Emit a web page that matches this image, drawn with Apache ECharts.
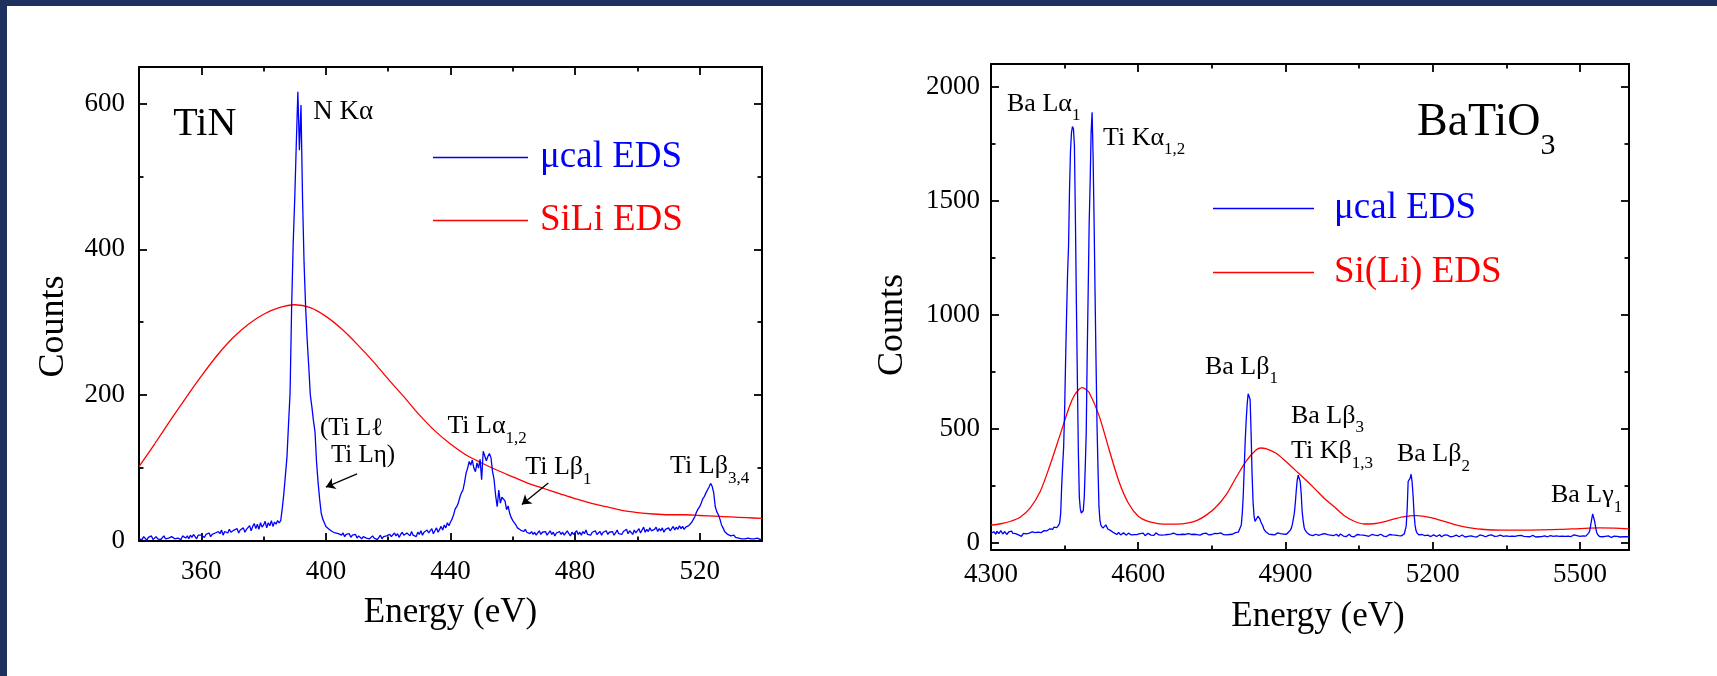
<!DOCTYPE html>
<html><head><meta charset="utf-8">
<script src="https://cdn.jsdelivr.net/npm/echarts@6.0.0/dist/echarts.min.js"></script>
<style>html,body{margin:0;padding:0;background:#fff;}#c{width:1717px;height:676px;}</style>
</head><body><div id="c"></div>
<script>
// ---------------- DATA ----------------
// TiN, microcalorimeter EDS: counts every 0.5 eV from 340 eV; each row = 5 eV (10 samples)
const tinStart = 340, tinStep = 0.5;
const tinMicrocalRows = [
  [3,5,2,6,4,1,5,3,7,2],            // 340
  [4,6,3,5,2,4,7,3,5,4],            // 345
  [2,6,8,3,5,4,6,2,7,5],            // 350
  [4,7,3,8,5,9,6,3,8,6],            // 355
  [8,10,5,9,7,11,6,9,8,11],         // 360
  [9,13,10,15,8,13,14,11,16,12],    // 365
  [10,15,13,17,11,15,13,18,12,16],  // 370
  [17,21,14,20,24,17,23,16,25,19],  // 375
  [22,27,18,25,21,28,20,26,23,28],  // 380
  [25,28,45,65,90,115,160,203,321,408], // 385
  [470,545,616,536,598,470,380,320,275,239], // 390
  [200,184,165,150,108,80,57,38,30,25], // 395
  [20,22,16,18,13,15,11,13,10,12],  // 400
  [8,11,6,9,7,10,5,8,6,9],          // 405
  [4,7,5,3,6,8,4,6,3,5],            // 410
  [7,4,6,2,5,8,3,6,4,7],            // 415
  [5,9,6,8,11,7,10,5,9,12],         // 420
  [8,6,11,9,7,13,8,10,6,12],        // 425
  [9,14,8,12,10,15,11,13,17,10],    // 430
  [14,18,12,16,20,15,22,18,25,21],  // 435
  [26,30,36,44,47,52,60,66,70,80],  // 440
  [93,100,109,104,111,100,95,107,100,112], // 445
  [84,123,125,110,116,120,114,95,84,62],   // 450
  [47,70,52,60,59,55,43,48,38,32],  // 455
  [28,25,22,18,20,15,17,13,16,12],  // 460
  [14,10,13,9,12,8,11,14,9,12],     // 465
  [10,13,8,11,14,9,12,7,11,10],     // 470
  [13,9,12,8,11,14,10,7,12,9],      // 475
  [11,14,9,12,8,13,10,15,9,11],     // 480
  [8,12,10,14,9,11,13,8,12,10],     // 485
  [14,9,12,10,13,8,11,15,10,12],    // 490
  [9,13,11,16,10,14,12,9,15,11],    // 495
  [13,17,11,15,19,12,16,13,18,14],  // 500
  [12,16,19,13,17,14,18,12,16,15],  // 505
  [18,14,17,20,15,19,16,21,17,20],  // 510
  [16,19,17,21,20,26,30,34,40,44],  // 515
  [47,52,58,61,66,70,74,79,75,66],  // 520
  [47,40,36,30,22,18,13,11,9,8],    // 525
  [7,6,8,5,6,4,5,3,4,3],            // 530
  [2,4,2,3,1,3,2,4,3,2],            // 535
  [3]                               // 540
];
// TiN, SiLi EDS (smooth curve)
const tinSiliEnergy = [340,345,350,355,360,365,370,375,380,385,390,395,400,405,410,415,420,425,430,435,440,445,450,455,460,465,470,475,480,485,490,495,500,505,510,515,520,525,530,535,540];
const tinSiliCounts = [102,133,165,196,226,254,278,297,311,320,324,320,308,291,270,247,222,198,173,151,133,118,107,97,88,79,72,65,58,52,47,42,39,37,36,36,35,34,33,32,31];

// BaTiO3, microcalorimeter EDS: counts every 2 eV from 4300 eV; each row = 50 eV (25 samples)
const batStart = 4300, batStep = 2;
const batMicrocalRows = [
  [44,48,41,50,46,39,52,45,42,49,55,47,40,46,51,43,38,45,49,42,47,53,44,40,46], // 4300
  [42,38,45,36,41,34,30,37,43,39,35,41,47,40,44,38,42,49,45,41,46,52,44,48,43], // 4350
  [50,46,53,48,55,51,58,54,60,56,63,58,66,61,70,65,72,68,76,79,90,130,250,340,420], // 4400
  [580,800,1000,1180,1300,1550,1720,1800,1826,1815,1740,1420,1050,720,400,200,150,132,128,142,200,330,480,820,1100], // 4450
  [1400,1580,1800,1888,1700,1420,1100,800,520,330,160,100,78,70,66,72,68,80,76,62,58,64,55,57,50], // 4500
  [46,41,44,38,43,47,40,36,42,39,45,37,41,35,40,44,38,42,36,39,43,37,41,34,38], // 4550
  [40,36,42,35,39,44,37,33,40,38,43,36,41,35,38,42,34,39,45,37,40,36,42,38,35], // 4600
  [39,43,36,41,34,38,42,37,40,35,39,44,36,41,38,34,40,37,43,36,39,42,35,38,41], // 4650
  [37,42,35,40,38,44,36,39,34,41,37,43,38,35,40,36,42,39,37,44,38,41,36,40,43], // 4700
  [38,41,36,43,39,35,42,37,40,45,38,41,37,43,39,36,42,40,38,44,41,39,43,40,46], // 4750
  [45,42,48,50,55,80,130,210,330,450,540,610,655,660,630,480,300,180,120,95,92,100,118,123,105], // 4800
  [93,86,75,62,57,50,48,44,40,46,42,38,44,40,36,43,39,45,41,37,42,38,44,40,36], // 4850
  [42,39,45,48,52,57,66,82,105,130,174,230,276,298,302,270,220,140,100,70,57,50,46,42,40], // 4900
  [36,42,38,33,40,35,39,44,37,34,41,36,39,33,38,42,35,40,37,32,39,35,41,36,33], // 4950
  [37,32,39,35,30,36,40,33,37,31,38,34,29,36,32,39,34,30,37,33,28,35,31,38,33], // 5000
  [30,36,32,28,35,31,37,33,29,34,30,36,32,38,34,31,35,30,37,33,36,32,39,35,34], // 5050
  [31,36,33,29,35,32,38,34,30,36,33,29,35,31,37,33,30,36,32,38,36,40,48,75,150], // 5100
  [270,262,285,302,270,210,130,80,55,45,40,36,42,34,38,31,36,33,39,30,35,32,37,29,34], // 5150
  [32,36,30,34,29,35,31,37,33,28,34,30,36,32,29,35,31,34,28,33,36,30,34,31,35], // 5200
  [30,34,28,33,31,36,29,33,27,32,35,30,34,28,32,30,35,29,33,31,27,34,30,36,31], // 5250
  [29,33,30,35,28,32,30,34,27,31,36,29,33,30,28,34,31,27,32,35,29,33,30,34,28], // 5300
  [32,29,34,30,27,33,31,28,35,30,32,27,33,29,31,34,28,32,30,26,33,29,35,31,28], // 5350
  [31,28,34,29,32,27,33,30,28,35,31,29,33,27,32,30,34,28,31,29,33,27,32,30,35], // 5400
  [29,32,27,33,30,35,28,31,29,34,30,27,33,31,28,32,29,34,30,36,31,28,33,29,32], // 5450
  [30,33,28,32,29,34,31,27,33,45,55,80,105,128,125,95,70,48,38,32,29,27,30,28,31], // 5500
  [27,30,26,29,32,27,30,25,29,27,31,26,28,30,25,29,27,31,26,28,30,27,29,26,28], // 5550
  [27]  // 5600
];
// BaTiO3, Si(Li) EDS (smooth curve)
const batSiliEnergy = [4300,4320,4340,4360,4380,4400,4420,4440,4460,4470,4480,4486,4492,4500,4520,4540,4560,4580,4600,4620,4640,4660,4680,4700,4720,4740,4760,4780,4800,4820,4840,4850,4860,4880,4900,4920,4940,4960,4980,5000,5020,5040,5060,5080,5100,5120,5140,5160,5170,5180,5200,5220,5240,5260,5280,5300,5340,5380,5420,5460,5500,5540,5570,5600];
const batSiliCounts = [79,85,96,115,155,225,340,470,600,648,676,682,676,660,560,415,275,175,118,95,86,83,83,88,100,125,162,215,290,360,408,417,414,395,360,320,280,238,195,158,120,96,84,85,93,105,115,121,121,118,110,98,85,74,66,61,57,57,58,60,64,67,66,63];

// tick values
const tinXMajor = [360,400,440,480,520], tinXMinor = [380,420,460,500];
const tinYMajor = [0,200,400,600], tinYMinor = [100,300,500];
const batXMajor = [4300,4600,4900,5200,5500], batXMinor = [4450,4750,5050,5350];
const batYMajor = [0,500,1000,1500,2000], batYMinor = [250,750,1250,1750];

// peak labels (main text, subscript)
const tinLabels = [['TiN',''],['N Kα',''],['(Ti Lℓ',''],['Ti Lη)',''],['Ti Lα','1,2'],['Ti Lβ','1'],['Ti Lβ','3,4']];
const batLabels = [['Ba Lα','1'],['Ti Kα','1,2'],['BaTiO','3'],['Ba Lβ','1'],['Ba Lβ','3'],['Ti Kβ','1,3'],['Ba Lβ','2'],['Ba Lγ','1']];

// ---------------- BUILD ----------------
const FONT = '"Liberation Serif","Times New Roman","DejaVu Serif",serif';
const BLUE = '#0000ff', RED = '#ff0000';
function rowsToPairs(rows, start, step){ return rows.flat().map((c,i)=>[start+i*step, c]); }
const tinMicro = rowsToPairs(tinMicrocalRows, tinStart, tinStep);
const batMicro = rowsToPairs(batMicrocalRows, batStart, batStep);
const tinSili = tinSiliEnergy.map((e,i)=>[e, tinSiliCounts[i]]);
const batSili = batSiliEnergy.map((e,i)=>[e, batSiliCounts[i]]);

function axis(dim, grid, pos, min, max, ticks, len, showLine, extra){
  const a = {
    type:'value', gridIndex:grid, position:pos, min:min, max:max,
    splitLine:{show:false}, axisPointer:{show:false}, silent:true,
    axisLine:{show:showLine, onZero:false, lineStyle:{color:'#000', width:2}},
    axisTick:{show:true, inside:true, length:len, customValues:ticks, lineStyle:{color:'#000', width:1.8}},
    axisLabel:{show:false}
  };
  return Object.assign(a, extra||{});
}
const tickLbl = (vals, margin)=>({axisLabel:{show:true, customValues:vals, margin:margin, color:'#000', fontSize:27, fontFamily:FONT, formatter:v=>String(v)}});
const nameX = (gap, pad)=>({name:'Energy (eV)', nameLocation:'middle', nameGap:gap, nameMoveOverlap:false, nameTextStyle:{fontSize:35, fontFamily:FONT, color:'#000', padding:pad}});
const nameY = (gap, pad)=>({name:'Counts', nameLocation:'middle', nameGap:gap, nameRotate:90, nameMoveOverlap:false, nameTextStyle:{fontSize:36, fontFamily:FONT, color:'#000', padding:pad}});

const xAxes = [
  axis('x',0,'bottom',340,540,tinXMajor,8,true,Object.assign(tickLbl(tinXMajor,17),nameX(54,[0,0,0,0]))),
  axis('x',0,'bottom',340,540,tinXMinor,4.5,false),
  axis('x',0,'top',340,540,tinXMajor,8,true),
  axis('x',0,'top',340,540,tinXMinor,4.5,false),
  axis('x',1,'bottom',4300,5600,batXMajor,8,true,Object.assign(tickLbl(batXMajor,11),nameX(49,[0,0,0,16]))),
  axis('x',1,'bottom',4300,5600,batXMinor,4.5,false),
  axis('x',1,'top',4300,5600,batXMajor,8,true),
  axis('x',1,'top',4300,5600,batXMinor,4.5,false)
];
const yAxes = [
  axis('y',0,'left',0,650,tinYMajor,8,true,Object.assign(tickLbl(tinYMajor,14),nameY(67,[0,45,0,0]))),
  axis('y',0,'left',0,650,tinYMinor,4.5,false),
  axis('y',0,'right',0,650,tinYMajor,8,true),
  axis('y',0,'right',0,650,tinYMinor,4.5,false),
  axis('y',1,'left',-30,2100,batYMajor,8,true,Object.assign(tickLbl(batYMajor,11),nameY(80,[0,36,0,0]))),
  axis('y',1,'left',-30,2100,batYMinor,4.5,false),
  axis('y',1,'right',-30,2100,batYMajor,8,true),
  axis('y',1,'right',-30,2100,batYMinor,4.5,false)
];

const legendText = {fontSize:37, fontFamily:FONT, lineHeight:36};
const option = {
  animation:false,
  backgroundColor:'#fff',
  grid:[
    {left:139, top:67, width:623, height:474, outerBoundsMode:'none', containLabel:false},
    {left:991, top:64, width:638, height:486, outerBoundsMode:'none', containLabel:false}
  ],
  xAxis:xAxes, yAxis:yAxes,
  legend:[
    {orient:'vertical', left:433, top:139, padding:0, icon:'rect', itemWidth:95, itemHeight:1.4, itemGap:26, selectedMode:false,
     textStyle:Object.assign({padding:[0,0,0,7]}, legendText),
     data:[{name:'μcal EDS', textStyle:{color:BLUE}}, {name:'SiLi EDS', textStyle:{color:RED}}]},
    {orient:'vertical', left:1213, top:190, padding:0, icon:'rect', itemWidth:101, itemHeight:1.4, itemGap:27, selectedMode:false,
     textStyle:Object.assign({padding:[0,0,0,15]}, legendText),
     data:[{name:'μcal EDS', textStyle:{color:BLUE}}, {name:'Si(Li) EDS', textStyle:{color:RED}}]}
  ],
  series:[
    {name:'μcal EDS', type:'line', xAxisIndex:0, yAxisIndex:0, data:tinMicro, symbol:'none', showSymbol:false,
     lineStyle:{color:BLUE, width:1.3}, itemStyle:{color:BLUE}, z:3, silent:true,
     markLine:{silent:true, symbol:['none','arrow'], symbolSize:9, animation:false,
       lineStyle:{color:'#000', width:1.3, type:'solid'}, itemStyle:{color:'#000'}, label:{show:false}, emphasis:{disabled:true},
       data:[[{coord:[410,92]},{coord:[400,74]}],[{coord:[471.4,79.5]},{coord:[462.9,50]}]]}},
    {name:'SiLi EDS', type:'line', xAxisIndex:0, yAxisIndex:0, data:tinSili, symbol:'none', showSymbol:false, smooth:0.3,
     lineStyle:{color:RED, width:1.3}, itemStyle:{color:RED}, z:2, silent:true},
    {name:'μcal EDS', type:'line', xAxisIndex:4, yAxisIndex:4, data:batMicro, symbol:'none', showSymbol:false,
     lineStyle:{color:BLUE, width:1.3}, itemStyle:{color:BLUE}, z:3, silent:true},
    {name:'Si(Li) EDS', type:'line', xAxisIndex:4, yAxisIndex:4, data:batSili, symbol:'none', showSymbol:false, smooth:0.3,
     lineStyle:{color:RED, width:1.3}, itemStyle:{color:RED}, z:2, silent:true}
  ]
};
const chart = echarts.init(document.getElementById('c'), null, {renderer:'canvas'});
chart.setOption(option);

// ---------------- ANNOTATIONS (anchored in data coordinates) ----------------
// [labelIndex, energy, counts, fontSize, subFontSize, subOffset]
const tinLabelPlace = [[0,351,571,40,0,0],[1,395.9,588,27,0,0],[2,398.1,155,25,0,0],[3,401.6,117,25,0,0],
                       [4,439,157,26,17,12],[5,464,101,26,17,12],[6,510.5,102,26,17,12]];
const batLabelPlace = [[0,4332.6,1926,26,17,12],[1,4528.2,1773,26,17,11],[2,5168,1843,46,30,23.5],[3,4736,773,26,17,12],
                       [4,4911.2,558,26,17,12],[5,4911.2,405,26,17,13],[6,5127.2,388,26,17,12],[7,5441,212,26,17,13]];
function annText(p, main, sub, size, subSize, off){
  return {type:'text', x:p[0], y:p[1], silent:true, z:50,
    style:{text: sub ? '{m|'+main+'}{s|'+sub+'}' : '{m|'+main+'}', align:'left', verticalAlign:'middle',
      rich:{m:{fontSize:size, fontFamily:FONT, fill:'#000', lineHeight:size+4},
            s:{fontSize:subSize||10, fontFamily:FONT, fill:'#000', lineHeight:size+4, padding:[off*2,0,0,0]}}}};
}
const graphics = [
  {type:'rect', shape:{x:0,y:0,width:1717,height:6}, style:{fill:'#1d305e'}, silent:true, z:100},
  {type:'rect', shape:{x:0,y:0,width:7,height:676}, style:{fill:'#1d305e'}, silent:true, z:100}
];
tinLabelPlace.forEach(r=>{ const p = chart.convertToPixel({seriesIndex:0},[r[1],r[2]]); graphics.push(annText(p, tinLabels[r[0]][0], tinLabels[r[0]][1], r[3], r[4], r[5])); });
batLabelPlace.forEach(r=>{ const p = chart.convertToPixel({seriesIndex:2},[r[1],r[2]]); graphics.push(annText(p, batLabels[r[0]][0], batLabels[r[0]][1], r[3], r[4], r[5])); });
chart.setOption({graphic:graphics});
</script></body></html>
